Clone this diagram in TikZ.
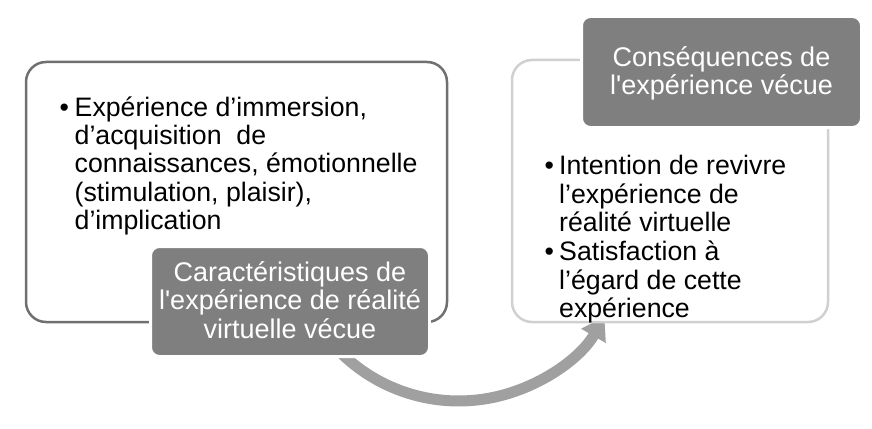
\documentclass[tikz,border=0pt]{standalone}
\usepackage{fontspec}
\setmainfont{Liberation Sans}
\usetikzlibrary{arrows.meta}
\definecolor{darkbox}{HTML}{7F7F7F}
\definecolor{frameL}{HTML}{707070}
\definecolor{frameR}{HTML}{D0D0D0}
\definecolor{arrowc}{HTML}{A0A0A0}
\newcommand{\fst}{\rule{0pt}{20pt}}
\newcommand{\sq}{\textquotesingle}
\begin{document}
\begin{tikzpicture}[x=1pt,y=-1pt,
  txt/.style={font=\fontsize{26.7}{28.3}\selectfont, inner sep=0pt, anchor=north west, align=left, text=black},
  bul/.style={font=\fontsize{26.7}{28.3}\selectfont, inner sep=0pt, anchor=base west, text=black},
  ctxt/.style={font=\fontsize{27}{28.5}\selectfont, inner sep=0pt, anchor=north, align=center, text=white},
  outerbox/.style={draw, fill=white, line width=2.5pt, rounded corners=20pt, inner sep=0pt},
  titlebox/.style={draw=white, fill=darkbox, line width=3pt, rounded corners=9pt, inner sep=0pt},
  bigarrow/.style={draw=arrowc, line width=11pt, -{Triangle[length=22pt,width=27pt]}}]
\useasboundingbox (0,0) rectangle (872,428);
% curved arrow (drawn first, hidden under boxes at both ends)
\coordinate (arrS) at (333.6,345.3);
\draw[bigarrow] (arrS) arc[start angle=138, end angle=30, radius=168.3];
% frames
\node[outerbox, draw=frameL, minimum width=421pt, minimum height=260pt] (frameLeft) at (236.5,192) {};
\node[outerbox, draw=frameR, minimum width=316pt, minimum height=262pt] (frameRight) at (670,191) {};
% title boxes
\node[titlebox, minimum width=279pt, minimum height=110pt] (carac) at (290,301.5) {};
\node[titlebox, minimum width=280pt, minimum height=111pt] (conseq) at (721.5,72) {};
% left bullet text
\node[bul] (bL) at (59.5,116) {•};
\node[txt] (tL) at (74.5,96) {\fst Expérience d’immersion,\\d’acquisition\ \ de\\connaissances, émotionnelle\\(stimulation, plaisir),\\d’implication};
% right bullet texts
\node[bul] (bR1) at (544.5,174.5) {•};
\node[txt] (tR1) at (559,154.5) {\fst Intention de revivre\\l’expérience de\\réalité virtuelle};
\node[bul] (bR2) at (544.5,260.5) {•};
\node[txt] (tR2) at (559,240.5) {\fst Satisfaction à\\l’égard de cette\\expérience};
% title texts
\node[ctxt] (cL) at (290,261) {\fst Caractéristiques de\\l\sq expérience de réalité\\virtuelle vécue};
\node[ctxt] (cR) at (721.5,46) {\fst Conséquences de\\l\sq expérience vécue};
\end{tikzpicture}
\end{document}
